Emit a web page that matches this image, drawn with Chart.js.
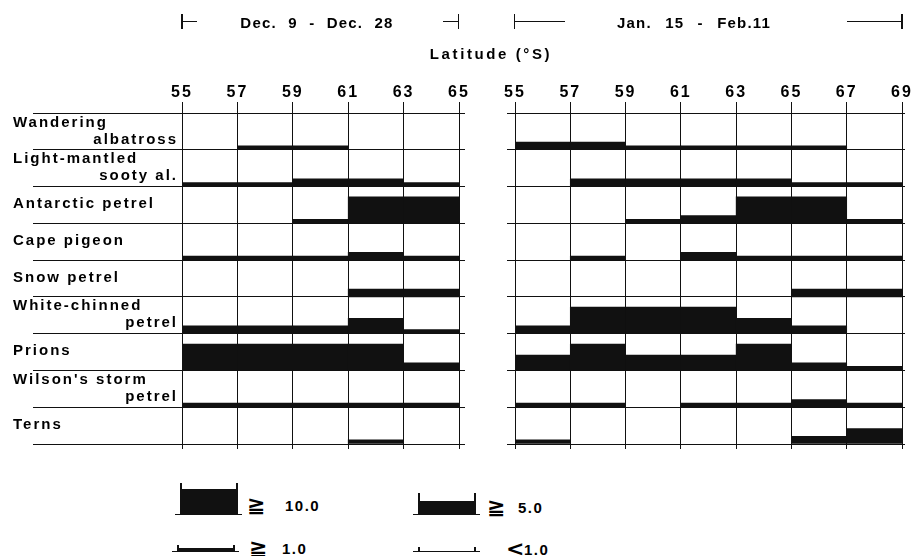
<!DOCTYPE html>
<html lang="en">
<head>
<meta charset="UTF-8" />
<title>Seabird abundance by latitude</title>
<script src="https://cdn.jsdelivr.net/npm/chart.js"></script>
<style>
  body { margin: 0; background: #fff; }
  #figure {
    position: relative; width: 915px; height: 556px; overflow: hidden;
    font-family: "Liberation Sans", Arial, sans-serif; font-weight: bold; color: #000;
  }
  canvas { position: absolute; top: 0; }
  .txt { position: absolute; white-space: pre; line-height: 1; transform: translate(-50%, -50%); }
  .lbl { position: absolute; white-space: pre; line-height: 1; transform: translateY(-50%); }
  .rule { position: absolute; background: #111; }
</style>
</head>
<body>
<div id="figure">
  <canvas id="decChart" width="470" height="470" style="left:0"></canvas>
  <canvas id="janChart" width="445" height="470" style="left:470px"></canvas>

  <!-- period brackets -->
  <div class="rule" style="left:181px;top:14px;width:1.5px;height:15px"></div>
  <div class="rule" style="left:182px;top:21px;width:15px;height:1.2px"></div>
  <div class="txt" style="left:317px;top:22px;font-size:15px;letter-spacing:1.2px;word-spacing:6px">Dec. 9 - Dec. 28</div>
  <div class="rule" style="left:443px;top:21px;width:15px;height:1.2px"></div>
  <div class="rule" style="left:457.5px;top:14px;width:1.5px;height:15px"></div>

  <div class="rule" style="left:513.5px;top:14px;width:1.5px;height:15px"></div>
  <div class="rule" style="left:514px;top:21px;width:51px;height:1.2px"></div>
  <div class="txt" style="left:694px;top:22px;font-size:15px;letter-spacing:1.2px;word-spacing:8px">Jan. 15 - Feb.11</div>
  <div class="rule" style="left:847px;top:21px;width:55px;height:1.2px"></div>
  <div class="rule" style="left:901px;top:14px;width:1.5px;height:15px"></div>

  <div class="txt" style="left:491px;top:53px;font-size:15px;letter-spacing:2.6px">Latitude (°S)</div>
</div>

<script>
  // Species (rows, top to bottom), each label split into its printed lines
  const species = [
    "Wandering albatross", "Light-mantled sooty al.", "Antarctic petrel",
    "Cape pigeon", "Snow petrel", "White-chinned petrel", "Prions",
    "Wilson's storm petrel", "Terns",
  ];
  const speciesLines = [
    ["Wandering", "albatross"], ["Light-mantled", "sooty al."], ["Antarctic petrel"],
    ["Cape pigeon"], ["Snow petrel"], ["White-chinned", "petrel"], ["Prions"],
    ["Wilson's storm", "petrel"], ["Terns"],
  ];

  // Latitude band edges (°S)
  const decLatitudes = [55, 57, 59, 61, 63, 65];
  const janLatitudes = [55, 57, 59, 61, 63, 65, 67, 69];

  // Abundance class per 2° band: 0 none, 1 <1.0, 2 >=1.0, 3 >=5.0, 4 >=10.0
  const decClasses = [
    [0, 1, 1, 0, 0],
    [1, 1, 2, 2, 1],
    [0, 0, 1, 4, 4],
    [1, 1, 1, 2, 1],
    [0, 0, 0, 2, 2],
    [2, 2, 2, 3, 1],
    [4, 4, 4, 4, 2],
    [1, 1, 1, 1, 1],
    [0, 0, 0, 1, 0],
  ];
  const janClasses = [
    [2, 2, 1, 1, 1, 1, 0],
    [0, 2, 2, 2, 2, 1, 1],
    [0, 0, 1, 2, 4, 4, 1],
    [0, 1, 0, 2, 1, 1, 1],
    [0, 0, 0, 0, 0, 2, 2],
    [2, 4, 4, 4, 3, 2, 0],
    [3, 4, 3, 3, 4, 2, 1],
    [1, 1, 0, 1, 1, 2, 1],
    [1, 0, 0, 0, 0, 2, 3],
  ];

  // Legend classes
  const legendSymbols = ["≧", "≧", "≧", "<"];
  const legendValues = ["10.0", "5.0", "1.0", "1.0"];

  // bar height of each class, as a fraction of one row
  const CLASS_HEIGHT = [0, 0.11, 0.21, 0.42, 0.72];
  const INK = "#111";
  const tickFont = { family: "'Liberation Sans', Arial, sans-serif", weight: "bold", size: 16 };

  const spacing = {
    id: "spacing",
    beforeDraw(chart) { chart.ctx.letterSpacing = "2px"; },
  };

  const speciesLabels = {
    id: "speciesLabels",
    afterDraw(chart) {
      const { ctx, chartArea, scales } = chart;
      ctx.save();
      ctx.font = "bold 15px 'Liberation Sans', Arial, sans-serif";
      ctx.fillStyle = "#000";
      ctx.letterSpacing = "2px";
      ctx.textBaseline = "alphabetic";
      speciesLines.forEach((lines, i) => {
        const top = scales.y.getPixelForValue(species.length - i);
        ctx.textAlign = "left";
        if (lines.length === 1) {
          ctx.fillText(lines[0], 13, top + 21.5);
        } else {
          ctx.fillText(lines[0], 13, top + 13.5);
          ctx.textAlign = "right";
          ctx.fillText(lines[1], chartArea.left - 4, top + 30.5);
        }
      });
      ctx.restore();
    },
  };

  function makePanel(id, lats, classes, edge, extraPlugins) {
    const rows = species.length;
    const bins = lats.slice(0, -1).map((v, i) => v + "-" + lats[i + 1]);
    const setTicks = (s) => { s.ticks = lats.map((v) => ({ value: v })); };

    const datasets = classes.map((row, i) => ({
      label: species[i],
      data: row.map((c) => (c ? [rows - 1 - i, rows - 1 - i + CLASS_HEIGHT[c]] : null)),
      backgroundColor: INK,
      borderWidth: 0,
      grouped: false,
      barPercentage: 1,
      categoryPercentage: 1,
    }));

    return new Chart(document.getElementById(id), {
      type: "bar",
      data: { labels: bins, datasets },
      options: {
        responsive: false,
        animation: false,
        devicePixelRatio: 1,
        layout: { padding: edge.padding },
        plugins: { legend: { display: false }, tooltip: { enabled: false } },
        scales: {
          x: { type: "category", labels: bins, offset: true, display: false },
          lat: {
            type: "linear", position: "top", offset: false,
            min: lats[0], max: lats[lats.length - 1],
            afterBuildTicks: setTicks,
            ticks: { font: tickFont, color: "#000", padding: 0 },
            grid: { offset: false, color: INK, lineWidth: 1, tickLength: 11 },
            border: { display: false },
            afterFit: (s) => { s.height = 31; },
          },
          latBottom: {
            type: "linear", position: "bottom", offset: false,
            min: lats[0], max: lats[lats.length - 1],
            afterBuildTicks: setTicks,
            ticks: { display: false },
            grid: { offset: false, color: INK, lineWidth: 1, drawOnChartArea: false, tickLength: 5 },
            border: { display: false },
            afterFit: (s) => { s.height = 5; },
          },
          y: {
            type: "linear", position: "left", min: 0, max: rows,
            ticks: { display: false, stepSize: 1 },
            grid: { color: INK, lineWidth: 1, tickLength: edge.left },
            border: { display: false },
            afterFit: (s) => { s.width = edge.left; },
          },
          yRight: {
            type: "linear", position: "right", min: 0, max: rows,
            ticks: { display: false, stepSize: 1 },
            grid: { color: INK, lineWidth: 1, drawOnChartArea: false, tickLength: edge.right },
            border: { display: false },
            afterFit: (s) => { s.width = edge.right; },
          },
        },
      },
      plugins: [spacing].concat(extraPlugins),
    });
  }

  makePanel("decChart", decLatitudes, decClasses,
    { left: 149, right: 6, padding: { left: 33, top: 82, right: 5, bottom: 21 } },
    [speciesLabels]);
  makePanel("janChart", janLatitudes, janClasses,
    { left: 8, right: 3, padding: { left: 37, top: 82, right: 10, bottom: 21 } },
    []);

  // Legend swatches
  const fig = document.getElementById("figure");
  function rule(x, y, w, h) {
    const d = document.createElement("div");
    d.className = "rule";
    d.style.cssText = `left:${x}px;top:${y}px;width:${w}px;height:${h}px`;
    fig.appendChild(d);
  }
  function text(cls, x, y, str, css) {
    const d = document.createElement("div");
    d.className = cls;
    d.textContent = str;
    d.style.cssText = `left:${x}px;top:${y}px;` + css;
    fig.appendChild(d);
  }
  const swatches = [
    { x: 175, base: 515, fill: 26, tick: 32, sym: 247, val: 285, cy: 505 },
    { x: 413, base: 515, fill: 14, tick: 22, sym: 487, val: 518, cy: 507 },
    { x: 172, base: 552, fill: 4, tick: 7, sym: 249, val: 282, cy: 548 },
    { x: 413, base: 552, fill: 1, tick: 5.5, sym: 506, val: 524, cy: 549 },
  ];
  swatches.forEach((s, i) => {
    rule(s.x, s.base - 1.5, 67, 1.5);
    rule(s.x + 5, s.base - s.fill, 57, s.fill);
    rule(s.x + 5, s.base - s.tick, 1.5, s.tick);
    rule(s.x + 61, s.base - s.tick, 1.5, s.tick);
    text("lbl", s.sym, s.cy, legendSymbols[i], "font-size:22px;font-family:'DejaVu Sans',sans-serif;font-weight:bold");
    text("lbl", s.val, s.cy, legendValues[i], "font-size:15px;letter-spacing:1.5px");
  });
</script>
</body>
</html>
